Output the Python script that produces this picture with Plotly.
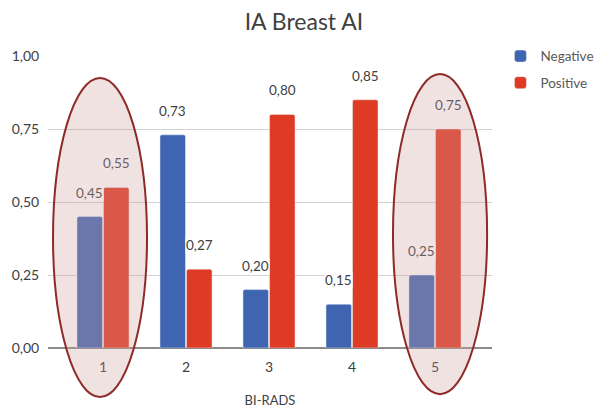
import plotly.graph_objects as go

# BI-RADS categories and the share of negative / positive cases in each
categories = ["1", "2", "3", "4", "5"]
negative = [0.45, 0.73, 0.20, 0.15, 0.25]
positive = [0.55, 0.27, 0.80, 0.85, 0.75]
y_ticks = [0.0, 0.25, 0.5, 0.75, 1.0]
highlighted = ["1", "5"]

FONT = "Lato"
BLUE = "#3f65b1"
RED = "#df3a24"

fig = go.Figure()
fig.add_trace(go.Bar(x=categories, y=negative, name="Negative", marker_color=BLUE,
                     legendgroup="neg"))
fig.add_trace(go.Bar(x=categories, y=positive, name="Positive", marker_color=RED,
                     legendgroup="pos"))

# value labels above each bar, with decimal comma
# (category axis: annotations are placed by category index)
for values, shift in ((negative, -13.5), (positive, 13.5)):
    for idx, (cat, v) in enumerate(zip(categories, values)):
        inside = cat in highlighted
        fig.add_annotation(
            x=idx, y=v, xref="x", yref="y", xshift=shift, yshift=24,
            yanchor="middle", showarrow=False,
            text=f"{v:.2f}".replace(".", ","),
            font=dict(family=FONT, size=13.5,
                      color="rgb(108,94,94)" if inside else "#404040"),
            bgcolor="rgb(241,227,227)" if inside else "white", borderpad=0,
        )

# translucent ellipses around the first and last categories
ellipse_line = dict(color="#8e2a28", width=2)
ellipse_fill = "rgba(210,160,160,0.3)"
for x0, x1, y0, y1 in ((0.0113, 0.223, -0.168, 0.925), (0.777, 0.989, -0.158, 0.938)):
    fig.add_shape(type="circle", xref="paper", yref="paper", x0=x0, x1=x1, y0=y0, y1=y1,
                  line=ellipse_line, fillcolor=ellipse_fill, layer="above")

fig.update_layout(
    width=596, height=412,
    margin=dict(l=48, r=104, t=56, b=64, autoexpand=False),
    paper_bgcolor="white", plot_bgcolor="white",
    separators=",.",
    barmode="group", bargap=0.36, bargroupgap=0.04, barcornerradius=2,
    title=dict(text="IA Breast AI", x=0.51, xref="container", xanchor="center",
               y=1 - 22 / 412, yref="container", yanchor="middle",
               font=dict(family=FONT, size=23, color="#404040")),
    font=dict(family=FONT, color="#595959"),
    legend=dict(x=1.019, xanchor="left", y=1.052, yanchor="top",
                traceorder="grouped", tracegroupgap=6,
                font=dict(family=FONT, size=13.5, color="#595959"),
                bgcolor="rgba(0,0,0,0)"),
    xaxis=dict(type="category", range=[-0.663, 4.687],
               showgrid=False, ticks="outside", ticklen=6, tickcolor="rgba(0,0,0,0)",
               tickfont=dict(family=FONT, size=14, color="#404040"),
               title=dict(text="BI-RADS", standoff=22,
                          font=dict(family=FONT, size=13, color="#404040"))),
    yaxis=dict(range=[0, 1], tickvals=y_ticks, tickformat=".2f",
               showgrid=True, gridcolor="#d2d2d2", gridwidth=1.2,
               zeroline=True, zerolinecolor="#8c8c8c", zerolinewidth=1.6,
               ticks="outside", ticklen=5, tickcolor="rgba(0,0,0,0)",
               tickfont=dict(family=FONT, size=14, color="#404040")),
)

fig.write_html("out.html")
